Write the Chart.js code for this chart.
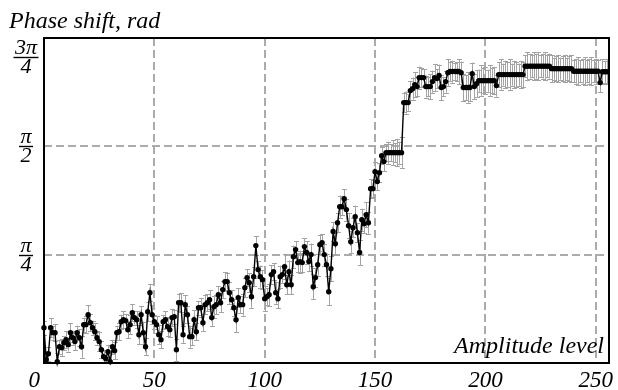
<!DOCTYPE html>
<html>
<head>
<meta charset="utf-8">
<script src="https://cdn.jsdelivr.net/npm/chart.js@4.4.1/dist/chart.umd.min.js"></script>
<style>
html,body{margin:0;padding:0;background:#fff;}
#wrap{width:618px;height:390px;position:relative;}
</style>
</head>
<body>
<div id="wrap"><canvas id="c"></canvas></div>
<script>
// Phase shift (rad) for amplitude levels 0..255
const phase = [
0.256,0.024,0.067,0.256,0.220,0.220,0.009,0.118,0.111,0.147,0.169,0.133,0.220,0.183,0.155,0.220,
0.183,0.118,0.278,0.278,0.350,0.292,0.256,0.227,0.183,0.155,0.096,0.046,0.031,0.082,0.009,0.118,
0.089,0.220,0.227,0.299,0.314,0.307,0.241,0.278,0.365,0.329,0.314,0.205,0.350,0.220,0.118,0.372,
0.510,0.350,0.299,0.278,0.205,0.169,0.299,0.314,0.263,0.241,0.329,0.336,0.096,0.437,0.437,0.205,
0.423,0.350,0.191,0.191,0.314,0.227,0.401,0.401,0.292,0.423,0.437,0.459,0.329,0.408,0.423,0.495,
0.437,0.532,0.590,0.590,0.510,0.459,0.401,0.314,0.474,0.423,0.423,0.546,0.619,0.582,0.481,0.626,
0.851,0.677,0.626,0.604,0.466,0.481,0.495,0.641,0.662,0.510,0.466,0.626,0.641,0.698,0.568,0.662,
0.568,0.771,0.822,0.728,0.735,0.728,0.844,0.801,0.735,0.786,0.553,0.619,0.713,0.858,0.873,0.786,
0.713,0.517,0.684,0.953,0.865,1.017,1.133,1.133,1.191,1.112,0.995,0.879,0.981,1.061,0.945,0.801,
1.039,1.010,1.075,1.017,1.264,1.264,1.387,1.315,1.380,1.503,1.460,1.525,1.525,1.525,1.525,1.525,
1.525,1.525,1.525,1.888,1.888,1.888,1.975,1.989,2.018,2.004,2.069,2.069,2.069,2.004,2.004,2.004,
2.040,2.069,2.062,2.084,1.997,2.004,2.040,2.105,2.113,2.113,2.113,2.113,2.113,2.105,1.997,1.997,
1.997,1.997,2.098,2.004,2.025,2.047,2.047,2.047,2.047,2.047,2.047,2.047,2.047,2.011,2.091,2.091,
2.091,2.091,2.091,2.091,2.091,2.091,2.091,2.091,2.091,2.091,2.152,2.152,2.152,2.152,2.152,2.152,
2.152,2.152,2.152,2.152,2.152,2.152,2.134,2.134,2.134,2.134,2.134,2.134,2.134,2.134,2.134,2.134,
2.115,2.115,2.115,2.115,2.115,2.115,2.115,2.115,2.115,2.115,2.115,2.115,2.033,2.112,2.112,2.112
];
// Error bar half-widths (rad)
const phaseErr = [
0.05,0.06,0.05,0.07,0.05,0.06,0.06,0.05,0.06,0.05,0.06,0.05,0.07,0.05,0.06,0.05,
0.06,0.08,0.05,0.06,0.07,0.06,0.05,0.06,0.05,0.07,0.06,0.05,0.06,0.05,0.07,0.05,
0.06,0.05,0.06,0.05,0.06,0.05,0.06,0.07,0.06,0.05,0.06,0.07,0.06,0.08,0.06,0.07,
0.06,0.07,0.05,0.06,0.07,0.06,0.05,0.06,0.07,0.05,0.06,0.05,0.08,0.06,0.07,0.06,
0.07,0.06,0.08,0.06,0.07,0.06,0.05,0.07,0.06,0.07,0.06,0.07,0.06,0.08,0.07,0.06,
0.07,0.06,0.07,0.06,0.08,0.07,0.06,0.09,0.07,0.06,0.08,0.07,0.06,0.07,0.08,0.07,
0.07,0.06,0.08,0.07,0.09,0.06,0.08,0.07,0.06,0.08,0.07,0.08,0.06,0.09,0.07,0.08,
0.07,0.08,0.06,0.07,0.08,0.07,0.06,0.08,0.07,0.08,0.09,0.07,0.08,0.07,0.06,0.08,
0.08,0.10,0.09,0.07,0.08,0.07,0.08,0.06,0.07,0.08,0.09,0.08,0.07,0.08,0.07,0.09,
0.08,0.07,0.09,0.08,0.07,0.06,0.07,0.06,0.07,0.06,0.07,0.06,0.08,0.06,0.09,0.07,
0.10,0.08,0.11,0.07,0.08,0.06,0.07,0.08,0.09,0.07,0.08,0.07,0.06,0.08,0.07,0.09,
0.08,0.10,0.07,0.08,0.09,0.07,0.08,0.10,0.07,0.08,0.06,0.07,0.09,0.08,0.10,0.09,
0.11,0.10,0.08,0.09,0.10,0.08,0.11,0.09,0.10,0.08,0.11,0.09,0.10,0.08,0.09,0.11,
0.08,0.10,0.09,0.11,0.08,0.10,0.09,0.08,0.10,0.09,0.08,0.10,0.09,0.08,0.10,0.09,
0.10,0.08,0.09,0.10,0.08,0.09,0.10,0.08,0.09,0.10,0.08,0.09,0.10,0.08,0.09,0.10,
0.08,0.09,0.10,0.08,0.09,0.10,0.08,0.09,0.10,0.08,0.09,0.08,0.07,0.09,0.08,0.09
];
const xTickValues = [0, 50, 100, 150, 200, 250];
const xTickLabels = ['0', '50', '100', '150', '200', '250'];
const yTickValues = [Math.PI / 4, Math.PI / 2, 3 * Math.PI / 4];
const yTickNum = ['\u03C0', '\u03C0', '3\u03C0'];
const yTickDen = ['4', '2', '4'];
const yTitle = 'Phase shift, rad';
const xTitle = 'Amplitude level';

const FONT = '"Liberation Serif", "DejaVu Serif", serif';

const errorBars = {
  id: 'errorBars',
  beforeDatasetsDraw(chart) {
    const ctx = chart.ctx, xs = chart.scales.x, ys = chart.scales.y, a = chart.chartArea;
    ctx.save();
    ctx.beginPath();
    ctx.rect(a.left, a.top - 4, a.right - a.left, a.bottom - a.top + 4);
    ctx.clip();
    ctx.strokeStyle = '#a3a3a3';
    ctx.lineWidth = 1;
    ctx.beginPath();
    phase.forEach((v, i) => {
      const e = phaseErr[i];
      const px = Math.round(xs.getPixelForValue(i)) + 0.5;
      const y1 = ys.getPixelForValue(v + e), y2 = ys.getPixelForValue(v - e);
      ctx.moveTo(px, y1); ctx.lineTo(px, y2);
      ctx.moveTo(px - 2.5, Math.round(y1) + 0.5); ctx.lineTo(px + 2.5, Math.round(y1) + 0.5);
      ctx.moveTo(px - 2.5, Math.round(y2) + 0.5); ctx.lineTo(px + 2.5, Math.round(y2) + 0.5);
    });
    ctx.stroke();
    ctx.restore();
  }
};

const decor = {
  id: 'decor',
  afterDraw(chart) {
    const ctx = chart.ctx, xs = chart.scales.x, ys = chart.scales.y, a = chart.chartArea;
    ctx.save();
    // frame
    ctx.strokeStyle = '#000';
    ctx.lineWidth = 2;
    ctx.strokeRect(a.left, a.top, a.right - a.left, a.bottom - a.top);
    ctx.fillStyle = '#000';
    // titles
    ctx.textBaseline = 'alphabetic';
    ctx.font = 'italic 24px ' + FONT;
    ctx.textAlign = 'left';
    ctx.fillText(yTitle, 9, 28);
    ctx.textAlign = 'right';
    ctx.fillText(xTitle, a.right - 5, a.bottom - 10);
    // x tick labels
    ctx.font = 'italic 23px ' + FONT;
    xTickValues.forEach((v, i) => {
      const px = xs.getPixelForValue(v);
      if (i === 0) { ctx.textAlign = 'right'; ctx.fillText(xTickLabels[i], px - 4, 387); }
      else { ctx.textAlign = 'center'; ctx.fillText(xTickLabels[i], px, 387); }
    });
    // y tick labels as fractions
    const cx = 26;
    yTickValues.forEach((v, i) => {
      let py = ys.getPixelForValue(v);
      if (i === yTickValues.length - 1) py = a.top + 18.5;
      ctx.font = 'italic 22px ' + FONT;
      ctx.textAlign = 'center';
      const w = Math.max(ctx.measureText(yTickNum[i]).width, ctx.measureText(yTickDen[i]).width) + 3;
      ctx.fillText(yTickNum[i], cx, py - 3);
      ctx.fillText(yTickDen[i], cx, py + 16);
      ctx.lineWidth = 1.4;
      ctx.beginPath();
      ctx.moveTo(cx - w / 2, Math.round(py) + 0.5);
      ctx.lineTo(cx + w / 2, Math.round(py) + 0.5);
      ctx.stroke();
    });
    ctx.restore();
  }
};

new Chart(document.getElementById('c'), {
  type: 'line',
  data: {
    datasets: [{
      data: phase.map((v, i) => ({ x: i, y: v })),
      borderColor: '#000',
      borderWidth: 1.4,
      pointRadius: 2.7,
      pointBackgroundColor: '#000',
      pointBorderWidth: 0,
      tension: 0,
      fill: false,
      clip: 4
    }]
  },
  options: {
    responsive: true,
    maintainAspectRatio: false,
    animation: false,
    events: [],
    layout: { padding: { left: 44, top: 38, right: 9, bottom: 27 } },
    plugins: { legend: { display: false }, tooltip: { enabled: false } },
    scales: {
      x: {
        type: 'linear', min: 0, max: 256,
        afterBuildTicks: s => { s.ticks = xTickValues.map(v => ({ value: v })); },
        ticks: { display: false },
        grid: {
          drawTicks: false, lineWidth: 2,
          color: c => (c.tick && c.tick.value === 0) ? 'rgba(0,0,0,0)' : '#ababab'
        },
        border: { display: false, dash: [8, 4] }
      },
      y: {
        type: 'linear', min: 0, max: 3 * Math.PI / 4,
        afterBuildTicks: s => { s.ticks = yTickValues.slice(0, 2).map(v => ({ value: v })); },
        ticks: { display: false },
        grid: { drawTicks: false, lineWidth: 2, color: '#ababab' },
        border: { display: false, dash: [8, 4] }
      }
    }
  },
  plugins: [errorBars, decor]
});
</script>
</body>
</html>
